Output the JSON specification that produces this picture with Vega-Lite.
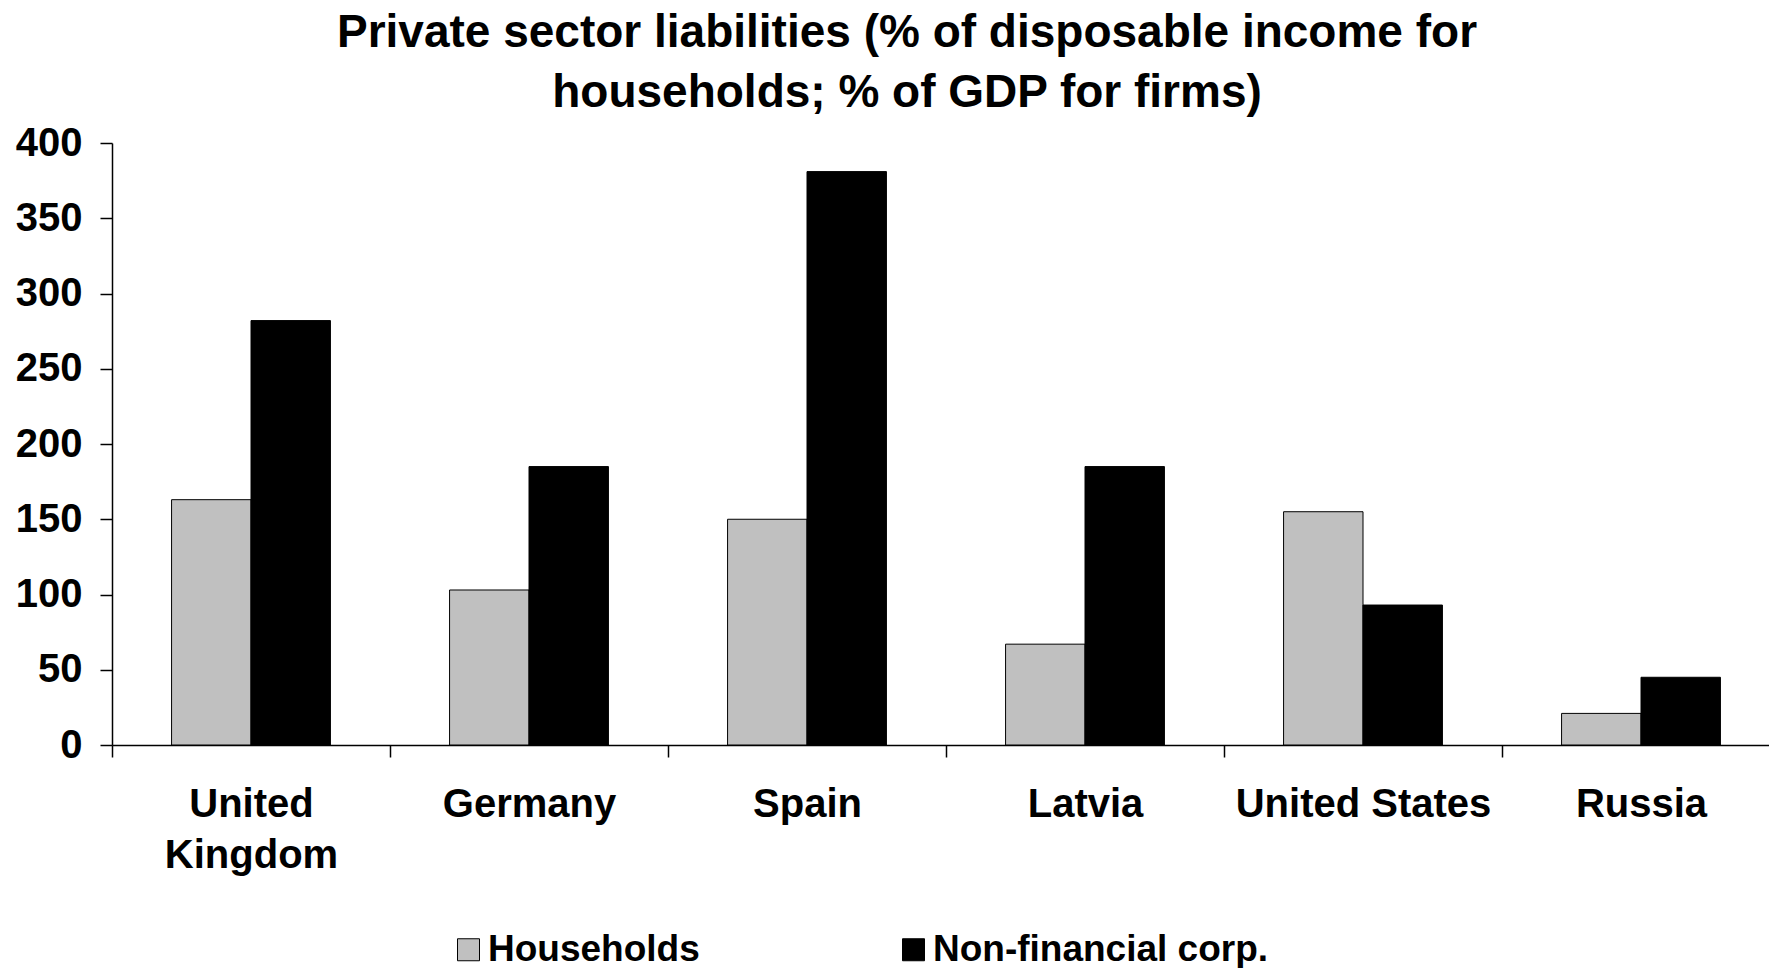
{
  "$schema": "https://vega.github.io/schema/vega-lite/v6.json",
  "autosize": "none",
  "width": 1656,
  "height": 602,
  "padding": {"left": 112, "top": 143, "right": 1, "bottom": 223},
  "background": "white",
  "config": {
    "font": "Liberation Sans",
    "view": {"stroke": null},
    "axis": {"grid": false, "domainColor": "#000000", "tickColor": "#000000", "domainWidth": 1.5, "tickWidth": 1.5, "labelColor": "#000000", "labelFont": "Liberation Sans", "labelFontWeight": "bold"}
  },
  "title": {
    "text": ["Private sector liabilities (% of disposable income for", "households; % of GDP for firms)"],
    "font": "Liberation Sans",
    "fontSize": 46,
    "fontWeight": "bold",
    "color": "#000000",
    "lineHeight": 60,
    "anchor": "middle",
    "dx": -33,
    "offset": 6
  },
  "data": {
    "values": [
      {"country": "United Kingdom", "sector": "Households", "value": 163},
      {"country": "United Kingdom", "sector": "Non-financial corp.", "value": 282},
      {"country": "Germany", "sector": "Households", "value": 103},
      {"country": "Germany", "sector": "Non-financial corp.", "value": 185},
      {"country": "Spain", "sector": "Households", "value": 150},
      {"country": "Spain", "sector": "Non-financial corp.", "value": 381},
      {"country": "Latvia", "sector": "Households", "value": 67},
      {"country": "Latvia", "sector": "Non-financial corp.", "value": 185},
      {"country": "United States", "sector": "Households", "value": 155},
      {"country": "United States", "sector": "Non-financial corp.", "value": 93},
      {"country": "Russia", "sector": "Households", "value": 21},
      {"country": "Russia", "sector": "Non-financial corp.", "value": 45}
    ]
  },
  "mark": {"type": "bar", "stroke": "#000000", "strokeWidth": 1},
  "encoding": {
    "x": {
      "field": "country",
      "type": "nominal",
      "sort": null,
      "scale": {"paddingInner": 0, "paddingOuter": 0, "range": [0, 1668]},
      "axis": {
        "title": null,
        "labelAngle": 0,
        "labelFontSize": 40,
        "labelLineHeight": 51,
        "labelPadding": 27,
        "labelLimit": 600,
        "tickSize": 12,
        "tickBand": "extent",
        "labelExpr": "datum.label == 'United Kingdom' ? ['United', 'Kingdom'] : datum.label"
      }
    },
    "xOffset": {
      "field": "sector",
      "type": "nominal",
      "sort": ["Households", "Non-financial corp."],
      "scale": {"paddingInner": 0, "paddingOuter": 0.75}
    },
    "y": {
      "field": "value",
      "type": "quantitative",
      "scale": {"domain": [0, 400], "nice": false},
      "axis": {
        "title": null,
        "values": [0, 50, 100, 150, 200, 250, 300, 350, 400],
        "labelFontSize": 40,
        "labelPadding": 18,
        "tickSize": 12
      }
    },
    "color": {
      "field": "sector",
      "type": "nominal",
      "scale": {"domain": ["Households", "Non-financial corp."], "range": ["#c0c0c0", "#000000"]},
      "legend": {
        "title": null,
        "orient": "none",
        "direction": "horizontal",
        "legendX": 338,
        "legendY": 788,
        "symbolType": "square",
        "symbolSize": 484,
        "symbolStrokeColor": "#000000",
        "symbolStrokeWidth": 1,
        "symbolOpacity": 1,
        "labelFontSize": 37,
        "labelFont": "Liberation Sans",
        "labelFontWeight": "bold",
        "labelColor": "#000000",
        "labelOffset": 1,
        "columnPadding": 195,
        "labelLimit": 500
      }
    }
  }
}
